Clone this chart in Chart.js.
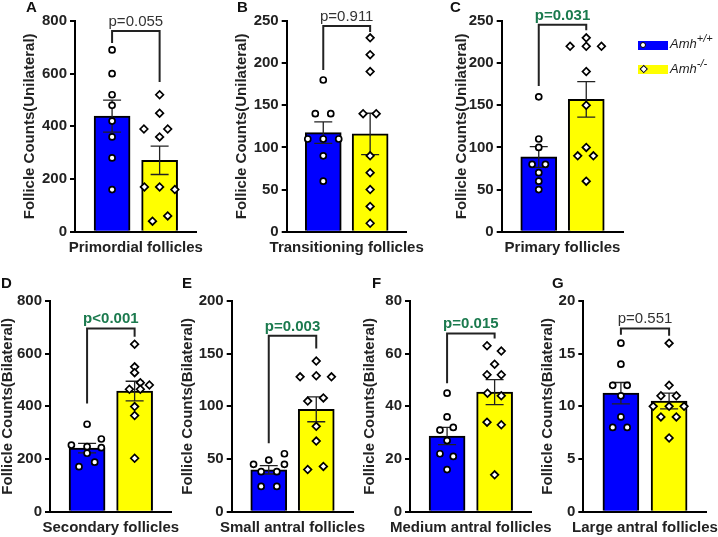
<!DOCTYPE html>
<html>
<head>
<meta charset="utf-8">
<script src="https://cdn.jsdelivr.net/npm/chart.js@4.4.1/dist/chart.umd.min.js"></script>
<style>
html, body { margin: 0; padding: 0; background: #fff; }
#fig { position: relative; width: 718px; height: 537px; overflow: hidden; background: #fff;
       font-family: "Liberation Sans", Arial, sans-serif; }
#fig canvas { position: absolute; }
.key { position: absolute; left: 638px; width: 30px; height: 9px; }
.key i { position: absolute; left: 2px; top: 1px; width: 4px; height: 4px; background: #fff;
         border: 1.6px solid #000; }
.key i.dot { border-radius: 50%; }
.key i.dia { transform: rotate(45deg); left: 2.5px; top: 1.2px; width: 3.5px; height: 3.5px; }
.lab { position: absolute; left: 670px; font-size: 13px; font-style: italic; color: #222; line-height: 16px; white-space: nowrap; }
.lab sup { font-size: 11px; position: relative; top: -1px; vertical-align: super; line-height: 0; }
</style>
</head>
<body>
<div id="fig"></div>
<script>
Chart.defaults.font.family = '"Liberation Sans", Arial, sans-serif';
Chart.defaults.color = '#222';

// ---- data ----
const categories = ['Primordial follicles', 'Transitioning follicles', 'Primary follicles',
    'Secondary follicles', 'Small antral follicles', 'Medium antral follicles', 'Large antral follicles'];
const yTitles = ['Follicle Counts(Unilateral)', 'Follicle Counts(Unilateral)', 'Follicle Counts(Unilateral)',
    'Follicle Counts(Bilateral)', 'Follicle Counts(Bilateral)', 'Follicle Counts(Bilateral)', 'Follicle Counts(Bilateral)'];
const yMax = [800, 250, 250, 800, 200, 80, 20];
const yStep = [200, 50, 50, 200, 50, 20, 5];
const pLabels = ['p=0.055', 'p=0.911', 'p=0.031', 'p<0.001', 'p=0.003', 'p=0.015', 'p=0.551'];
const pNums = [0.055, 0.911, 0.031, 0.001, 0.003, 0.015, 0.551];

const wtCounts = [
    [690, 600, 520, 480, 420, 360, 280, 160],
    [180, 140, 140, 110, 110, 110, 90, 60],
    [160, 110, 100, 80, 80, 70, 60, 50],
    [332, 276, 253, 247, 243, 222, 188, 171],
    [45, 49, 55, 45, 38, 38, 24, 24],
    [45, 36, 32, 31, 27, 22, 21, 16],
    [16, 14, 12, 12, 11, 9, 8, 8]
];
const koCounts = [
    [520, 450, 390, 390, 360, 170, 170, 160, 40, 60],
    [230, 210, 190, 140, 140, 90, 70, 50, 30, 10],
    [230, 220, 220, 220, 190, 150, 100, 90, 90, 60],
    [636, 550, 528, 490, 481, 465, 465, 399, 365, 203],
    [143, 128, 129, 128, 108, 105, 81, 67, 43, 40],
    [63, 61, 56, 52, 52, 45, 44, 34, 33, 14],
    [16, 12, 11, 11, 10, 10, 10, 9, 9, 7]
];

// ---- layout: where each panel sits (figure pixels) ----
const rows = [
    { top: 0, bottom: 270, areaTop: 21, areaBottom: 231.7, xTitleY: 248, letterY: 12 },
    { top: 270, bottom: 537, areaTop: 301, areaBottom: 511.7, xTitleY: 528, letterY: 288 }
];
const panels = [
    { letter: 'A', row: 0, letterX: 26, titleX: 30, axisX: 75, axisEnd: 196.7, bracket: [762, 716, 568] },
    { letter: 'B', row: 0, letterX: 237, titleX: 242, axisX: 286.7, axisEnd: 406.7, bracket: [244, 192, 237] },
    { letter: 'C', row: 0, letterX: 450, titleX: 462, axisX: 501.7, axisEnd: 623.3, bracket: [245.5, 173, 239] },
    { letter: 'D', row: 1, letterX: 1, titleX: 7.5, axisX: 50, axisEnd: 171.7, bracket: [696, 411, 664] },
    { letter: 'E', row: 1, letterX: 182, titleX: 187.5, axisX: 231.7, axisEnd: 353.3, bracket: [167, 65, 155] },
    { letter: 'F', row: 1, letterX: 372, titleX: 370, axisX: 410, axisEnd: 531.7, bracket: [67.7, 48.8, 65.8] },
    { letter: 'G', row: 1, letterX: 552, titleX: 547.5, axisX: 583.3, axisEnd: 706.7, bracket: [17.4, 16.8, 16.7] }
];
// sideways spread of the dots, in group units
const jitterWT = [
    [0, 0, 0, 0, 0, 0, 0, 0],
    [0, -0.17, 0.16, -0.33, 0, 0.33, 0, 0],
    [0, 0, 0, -0.14, 0.14, 0, 0, 0],
    [0, 0.30, -0.33, 0, 0.30, 0, 0.16, -0.17],
    [-0.32, 0, 0.33, 0.33, -0.16, 0.17, -0.16, 0.17],
    [0, 0, 0.13, -0.15, 0, -0.15, 0.13, 0],
    [0, 0, -0.17, 0.13, 0, 0, -0.17, 0.13]
];
const jitterKO = [
    [0, 0, -0.33, 0.17, 0, -0.32, 0, 0.32, -0.15, 0.17],
    [0, 0, 0, -0.15, 0.13, 0, 0, 0, 0, 0],
    [0, -0.34, 0, 0.32, 0, 0, 0, -0.18, 0.15, 0],
    [0, 0, 0, 0.12, 0.31, -0.11, 0.12, 0, 0, 0],
    [0, -0.34, 0, 0.32, 0.15, -0.18, 0, 0, 0.15, -0.18],
    [-0.16, 0.14, 0, -0.16, 0.14, -0.15, 0.14, -0.16, 0.14, 0],
    [0, 0, -0.17, 0.15, -0.33, 0, 0.31, -0.17, 0.15, 0]
];

function mean(a) { return a.reduce((s, v) => s + v, 0) / a.length; }
function sem(a) {
    const m = mean(a);
    const v = a.reduce((s, x) => s + (x - m) * (x - m), 0) / (a.length - 1);
    return Math.sqrt(v) / Math.sqrt(a.length);
}

const fig = document.getElementById('fig');
const FONT = '"Liberation Sans", Arial, sans-serif';

panels.forEach(function (L, i) {
    const R = rows[L.row];
    const left = Math.floor(Math.min(L.letterX, L.titleX - 9) - 3);
    const right = Math.min(718, L.axisEnd + 40);
    const width = Math.ceil(right - left);
    const height = R.bottom - R.top;
    const cv = document.createElement('canvas');
    cv.width = width; cv.height = height;
    cv.style.left = left + 'px'; cv.style.top = R.top + 'px';
    fig.appendChild(cv);

    const wt = wtCounts[i], ko = koCounts[i];
    const padL = (L.titleX - 9) - left;
    const yw = L.axisX - (L.titleX - 9);
    const padR = (left + width) - L.axisEnd;
    const xh = R.bottom - R.areaBottom;

    const deco = {
        id: 'deco',
        afterDatasetDraw(chart, args) {
            if (args.meta.type !== 'bar') return;
            const ctx = chart.ctx, xs = chart.scales.x, ys = chart.scales.y;
            ctx.save();
            ctx.strokeStyle = '#222';
            ctx.lineWidth = 1.3;
            [wt, ko].forEach(function (vals, g) {
                const m = mean(vals), e = sem(vals);
                const px = xs.getPixelForValue(g);
                const y1 = ys.getPixelForValue(m + e), y2 = ys.getPixelForValue(m - e);
                ctx.beginPath();
                ctx.moveTo(px, y1); ctx.lineTo(px, y2);
                ctx.moveTo(px - 9, y1); ctx.lineTo(px + 9, y1);
                ctx.moveTo(px - 9, y2); ctx.lineTo(px + 9, y2);
                ctx.stroke();
            });
            ctx.restore();
        },
        afterDraw(chart) {
            const ctx = chart.ctx, xs = chart.scales.x, ys = chart.scales.y;
            const sig = pNums[i] < 0.05;
            const x0 = xs.getPixelForValue(0), x1 = xs.getPixelForValue(1);
            const yt = ys.getPixelForValue(L.bracket[0]);
            ctx.save();
            ctx.strokeStyle = '#222';
            ctx.lineWidth = 2;
            ctx.beginPath();
            ctx.moveTo(x0, ys.getPixelForValue(L.bracket[1]));
            ctx.lineTo(x0, yt);
            ctx.lineTo(x1, yt);
            ctx.lineTo(x1, ys.getPixelForValue(L.bracket[2]));
            ctx.stroke();
            ctx.font = (sig ? 'bold ' : '') + '15px ' + FONT;
            ctx.fillStyle = sig ? '#1b7a4e' : '#333';
            ctx.textAlign = 'center';
            ctx.textBaseline = 'alphabetic';
            ctx.fillText(pLabels[i], (x0 + x1) / 2, yt - 5);
            // category label under the x axis (drawn here so it is not squeezed)
            ctx.font = 'bold 15px ' + FONT;
            ctx.fillStyle = '#222';
            ctx.textBaseline = 'middle';
            ctx.fillText(categories[i], (xs.left + xs.right) / 2, R.xTitleY - R.top);
            // panel letter
            ctx.fillStyle = '#111';
            ctx.textAlign = 'left';
            ctx.textBaseline = 'alphabetic';
            ctx.fillText(L.letter, L.letterX - left, R.letterY - R.top);
            ctx.restore();
        }
    };

    new Chart(cv, {
        type: 'bar',
        data: {
            datasets: [{
                type: 'bar',
                data: [{ x: 0, y: mean(wt) }, { x: 1, y: mean(ko) }],
                backgroundColor: ['#0000ff', '#ffff00'],
                borderColor: '#000',
                borderWidth: 2,
                barThickness: 36,
                order: 2
            }, {
                type: 'scatter',
                data: wt.map((v, j) => ({ x: jitterWT[i][j], y: v })),
                pointStyle: 'circle',
                pointRadius: 3,
                pointBackgroundColor: '#fff',
                pointBorderColor: '#000',
                pointBorderWidth: 1.7,
                order: 1
            }, {
                type: 'scatter',
                data: ko.map((v, j) => ({ x: 1 + jitterKO[i][j], y: v })),
                pointStyle: 'rectRot',
                pointRadius: 3.8,
                pointBackgroundColor: '#fff',
                pointBorderColor: '#000',
                pointBorderWidth: 1.7,
                order: 1
            }]
        },
        options: {
            responsive: false,
            animation: false,
            events: [],
            layout: { padding: { left: padL, right: padR, top: R.areaTop - R.top, bottom: 0 } },
            plugins: { legend: { display: false }, tooltip: { enabled: false } },
            scales: {
                x: {
                    type: 'linear', min: -0.78, max: 1.78, offset: false,
                    ticks: { display: false },
                    grid: { display: false, offset: false },
                    border: { display: true, color: '#000', width: 2 },
                    title: { display: false, text: categories[i] },
                    afterFit: function (s) { s.height = xh; }
                },
                y: {
                    min: 0, max: yMax[i],
                    ticks: { stepSize: yStep[i], color: '#222', padding: 3,
                             font: { size: 15, weight: 'bold' } },
                    grid: { display: true, drawOnChartArea: false, drawTicks: true,
                            tickLength: 5, color: '#000', lineWidth: 2 },
                    border: { display: true, color: '#000', width: 2 },
                    title: { display: true, text: yTitles[i], color: '#222',
                             font: { size: 15, weight: 'bold' }, padding: { top: 0, bottom: 0 } },
                    afterFit: function (s) { s.width = yw; }
                }
            }
        },
        plugins: [deco]
    });
});

// legend (HTML so the superscripts stay real text)
fig.insertAdjacentHTML('beforeend',
    '<div class="key" style="top:41px;background:#0000ff"><i class="dot"></i></div>' +
    '<span class="lab" style="top:36px">Amh<sup>+/+</sup></span>' +
    '<div class="key" style="top:65px;background:#ffff00"><i class="dia"></i></div>' +
    '<span class="lab" style="top:61px">Amh<sup>-/-</sup></span>');
</script>
</body>
</html>
